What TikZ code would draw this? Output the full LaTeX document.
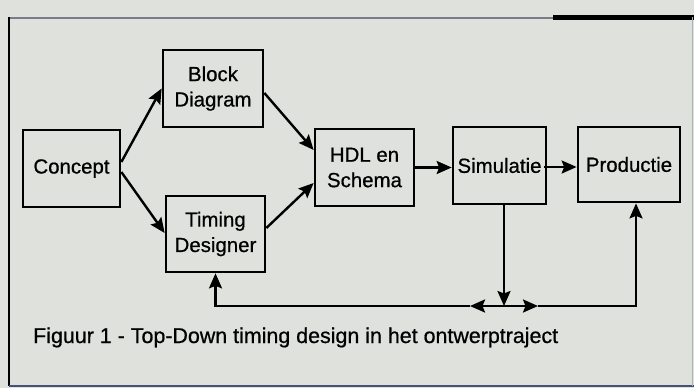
\documentclass[tikz,border=0pt]{standalone}
\usepackage{fontspec}
\setmainfont[FakeBold=0.7]{Liberation Sans}
\usetikzlibrary{arrows.meta,calc}
\definecolor{bg}{RGB}{223,226,220}
\definecolor{framegray}{RGB}{120,124,135}
\definecolor{framblue}{RGB}{70,80,120}
\begin{document}
\begin{tikzpicture}[x=1bp,y=-1bp,
  box/.style={draw, line width=2.7bp, align=center, inner sep=0pt,
    font=\fontsize{20.5}{25.5}\selectfont},
  arr/.style={line width=2.4bp, -{Stealth[length=15bp,width=13bp,inset=2.5bp]}},
  capt/.style={anchor=base west, inner sep=0pt, font=\fontsize{21.5}{25}\selectfont}]
\fill[bg] (0,0) rectangle (694,388);
\useasboundingbox (0,0) rectangle (694,388);
% frame
\draw[framegray, line width=2bp] (9,18) -- (553,18);
\draw[black, line width=5bp] (553,17) -- (694,17);
\draw[black, line width=1.8bp] (9,17) -- (9,386);
\draw[framblue, line width=2.5bp] (9,386) -- (694,386);
\draw[framegray!60, line width=1bp] (692,17) -- (692,386);
% boxes
\node[box, minimum width=97bp, minimum height=77bp] (concept) at (71.5,168.5) {Concept};
\node[box, minimum width=100bp, minimum height=77bp] (block) at (213,88.5) {Block\\Diagram};
\node[box, minimum width=99bp, minimum height=76bp] (timing) at (215.5,234) {Timing\\Designer};
\node[box, minimum width=99bp, minimum height=77bp] (hdl) at (364.5,167.5) {HDL en\\Schema};
\node[box, minimum width=93bp, minimum height=77bp] (sim) at (499.5,165.5) {Simulatie};
\node[box, minimum width=102bp, minimum height=75bp] (prod) at (629,164.5) {Productie};
% connectors
\draw[arr] ($(concept.east)+(0,-6.5)$) -- (block.west);
\draw[arr] ($(concept.east)+(0,3.5)$) -- ($(timing.west)+(0,-1)$);
\draw[arr] ($(block.east)+(0,4.5)$) -- ($(hdl.west)+(0,-17.5)$);
\draw[arr] ($(timing.east)+(0,-6)$) -- ($(hdl.west)+(0,15.5)$);
\draw[arr] (hdl.east) -- (hdl.east -| sim.west);
\draw[arr] ($(sim.east)+(-3,1.5)$) -- ($(sim.east -| prod.west)+(0,1.5)$);
\coordinate (j) at (504,306);
\coordinate (jl) at (470,306);
\coordinate (jr) at (538,306);
\draw[arr] (sim.south -| j) -- (j);
\draw[arr] (j) -- (jl);
\draw[arr] (jl) -| (timing.south);
\draw[arr] (j) -- (jr);
\draw[arr] (jr) -| ($(prod.south)+(7,0)$);
% caption
\node[capt] (cap) at (33,343) {Figuur 1 - Top-Down timing design in het ontwerptraject};
\end{tikzpicture}
\end{document}
